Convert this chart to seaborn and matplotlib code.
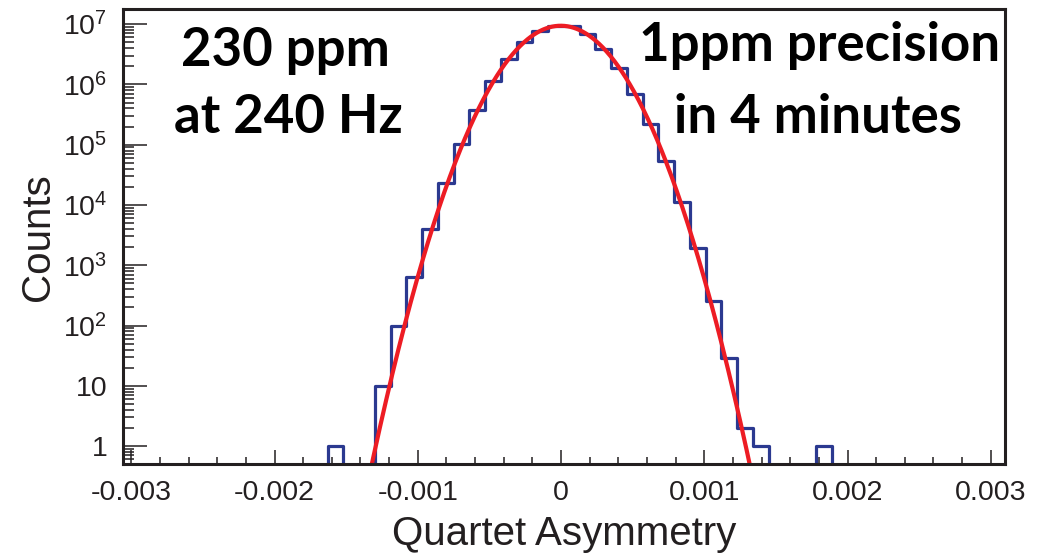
import numpy as np
import pandas as pd
import seaborn as sns
import matplotlib.pyplot as plt
from matplotlib.ticker import FixedLocator, FixedFormatter, LogLocator, NullFormatter, MultipleLocator

# histogram: 56 bins of 110 ppm between -0.00306 and 0.0031
hist_low = -0.00306
hist_high = 0.0031
n_bins = 56
counts = [0] * n_bins
counts[13] = 1
counts[16:41] = [10, 100, 630, 4000, 23000, 102000, 370000, 1130000, 2600000,
                 5000000, 7600000, 9200000, 9200000, 6800000, 3900000, 1870000,
                 700000, 220000, 53000, 11300, 1900, 257, 29, 2, 1]
counts[44] = 1

ytick_vals = [1, 10, 1e2, 1e3, 1e4, 1e5, 1e6, 1e7]
ytick_labels = ["1", "10"] + [r"$\mathdefault{10^{%d}}$" % k for k in range(2, 8)]
xtick_vals = [-0.003, -0.002, -0.001, 0, 0.001, 0.002, 0.003]
xtick_labels = ["-0.003", "-0.002", "-0.001", "0", "0.001", "0.002", "0.003"]

blue = "#2b3990"
red = "#ed1c24"
dark = "#231f20"

sns.set_style("ticks")
plt.rcParams["font.family"] = ["Liberation Sans", "DejaVu Sans"]
plt.rcParams["mathtext.fontset"] = "custom"
plt.rcParams["mathtext.rm"] = "Liberation Sans"

edges = np.linspace(hist_low, hist_high, n_bins + 1)
df = pd.DataFrame({"asym": 0.5 * (edges[:-1] + edges[1:]),
                   "counts": np.array(counts, dtype=float)})

fig = plt.figure(figsize=(10.53, 5.56), dpi=100)
ax = fig.add_axes([0.1165, 0.165, 0.838, 0.818])

sns.histplot(data=df, x="asym", weights="counts", bins=n_bins,
             binrange=(hist_low, hist_high), element="step", fill=False,
             color=blue, linewidth=2.3, ax=ax)

# gaussian fit: parabola in log10(counts), weighted by sqrt(N)
nz = df[df["counts"] > 0]
coef = np.polyfit(nz["asym"], np.log10(nz["counts"]), 2, w=np.sqrt(nz["counts"]))
xfit = np.linspace(-0.0016, 0.0016, 600)
sns.lineplot(x=xfit, y=10 ** np.polyval(coef, xfit), color=red, linewidth=3, ax=ax)

ax.set_yscale("log")
ax.set_xlim(hist_low, hist_high)
ax.set_ylim(0.5, 1.75e7)

ax.yaxis.set_major_locator(FixedLocator(ytick_vals))
ax.yaxis.set_major_formatter(FixedFormatter(ytick_labels))
ax.yaxis.set_minor_locator(LogLocator(base=10, subs=np.arange(2, 10), numticks=20))
ax.yaxis.set_minor_formatter(NullFormatter())
ax.xaxis.set_major_locator(FixedLocator(xtick_vals))
ax.xaxis.set_major_formatter(FixedFormatter(xtick_labels))
ax.xaxis.set_minor_locator(MultipleLocator(0.0002))

ax.tick_params(axis="both", which="both", direction="in", color=dark, width=1.1,
               labelsize=20.5, labelcolor=dark)
ax.tick_params(axis="y", which="major", length=17, pad=11)
ax.tick_params(axis="y", which="minor", length=8)
ax.tick_params(axis="x", which="major", length=10, pad=11)
ax.tick_params(axis="x", which="minor", length=5)

for sp in ax.spines.values():
    sp.set_visible(True)
    sp.set_color(dark)
    sp.set_linewidth(2.2)

ax.set_xlabel("Quartet Asymmetry", fontsize=29, color=dark, labelpad=7)
ax.set_ylabel("Counts", fontsize=29, color=dark, labelpad=4)

txt = dict(fontsize=38, fontweight="bold", color="black", ha="center", va="center",
           family=["Lato", "DejaVu Sans"])
fig.text(0.2707, 0.910, "230 ppm", **txt)
fig.text(0.2735, 0.788, "at 240 Hz", **txt)
fig.text(0.7787, 0.918, "1ppm precision", **txt)
fig.text(0.7768, 0.788, "in 4 minutes", **txt)

fig.savefig("out.png", dpi=100)
